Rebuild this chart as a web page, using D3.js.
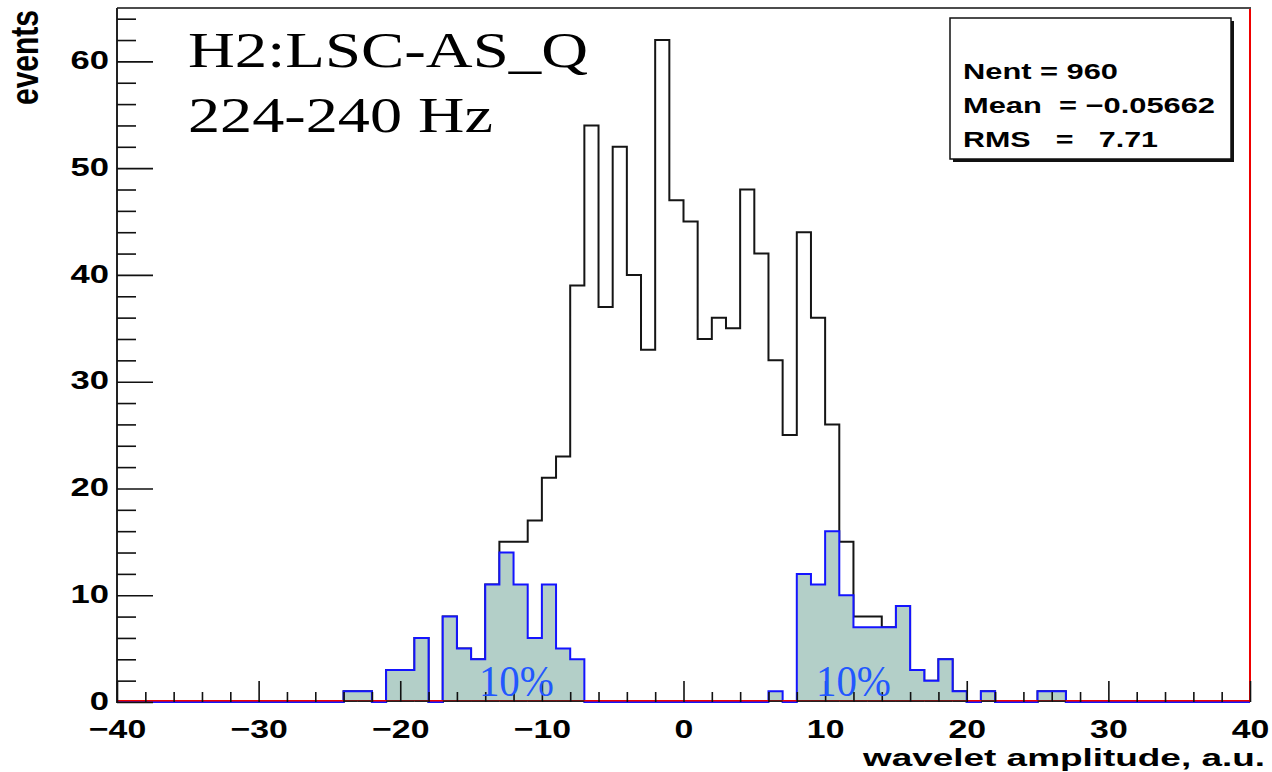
<!DOCTYPE html>
<html><head><meta charset="utf-8">
<script src="https://cdn.jsdelivr.net/npm/d3@7"></script>
<style>body{margin:0;background:#fff} svg{display:block}</style>
</head><body><svg id="c" width="1272" height="772"></svg>
<script>
// ---- data ----
const binLow = d3.range(-40, 40); // lower bin edges, bin width 1
const allEvents = [
  0,0,0,0,0,0,0,0,0,0, 0,0,0,0,0,0,
  1,1,0,3,3,6,0,8,5,4,
  11,15,15,17,21,23,39,54,37,52,
  40,33,62,47,45,34,36,35,48,42,
  32,25,44,36,26,15,8,8,7,9,
  3,2,4,1,0,1,0,0,0,1,
  1,
  0,0,0,0,0,0,0,0,0,0,0,0,0
];
const tailEvents = [
  0,0,0,0,0,0,0,0,0,0, 0,0,0,0,0,0,
  1,1,0,3,3,6,0,8,5,4,
  11,14,11,6,11,5,4,0,0,0,
  0,0,0,0,0,0,0,0,0,0,
  1,0,12,11,16,10,7,7,7,9,
  3,2,4,1,0,1,0,0,0,1,
  1,
  0,0,0,0,0,0,0,0,0,0,0,0,0
];
const yMajorTicks = [0,10,20,30,40,50,60];
const yMinorTicks = [2,4,6,8,12,14,16,18,22,24,26,28,32,34,36,38,42,44,46,48,52,54,56,58,62,64];
const xMajorTicks = [-40,-30,-20,-10,0,10,20,30,40];
const xMinorTicks = d3.range(-38, 40, 2).filter(v => v % 10 !== 0);
const titleLines = ["H2:LSC-AS_Q", "224-240 Hz"];
const statsLines = ["Nent = 960", "Mean  = \u22120.05662", "RMS   =   7.71"];
const tailLabelCenters = [-11.8, 12];
const tailLabelText = "10%";
const yTitle = "events";
const xTitle = "wavelet amplitude, a.u.";

// ---- layout ----
const svg = d3.select("#c");
const L = 117, R = 1250, T = 8, B = 702;
const x = d3.scaleLinear().domain([-40, 40]).range([L, R]);
const y = d3.scaleLinear().domain([0, 65]).range([B, T]);
const SANS = "'Liberation Sans', Arial, Helvetica, sans-serif";
const SERIF = "'Liberation Serif', 'Times New Roman', serif";

function stretch(sel, f) {
  sel.each(function () {
    const w = this.getComputedTextLength();
    this.setAttribute("textLength", w * f);
    this.setAttribute("lengthAdjust", "spacingAndGlyphs");
  });
}
function fitTo(sel, w) {
  sel.attr("textLength", w).attr("lengthAdjust", "spacingAndGlyphs");
}

svg.append("rect").attr("width", 1272).attr("height", 772).attr("fill", "#fff");

function stepPoints(counts) {
  const pts = [[-40, 0]];
  binLow.forEach((b, i) => pts.push([b, counts[i]]));
  pts.push([40, counts[counts.length - 1]]);
  pts.push([40, 0]);
  return pts;
}
const line = d3.line().x(d => x(d[0])).y(d => y(d[1])).curve(d3.curveStepAfter);
const area = d3.area().x(d => x(d[0])).y0(y(0)).y1(d => y(d[1])).curve(d3.curveStepAfter);

// black histogram (all events)
svg.append("path").attr("d", line(stepPoints(allEvents)))
  .attr("fill", "none").attr("stroke", "#151515").attr("stroke-width", 2);

// blue filled histogram (tails)
const tailPts = binLow.map((b, i) => [b, tailEvents[i]]);
tailPts.push([40, tailEvents[tailEvents.length - 1]]);
svg.append("path").attr("d", area(tailPts)).attr("fill", "#b3cfc8");
svg.append("path").attr("d", line(stepPoints(tailEvents)))
  .attr("fill", "none").attr("stroke", "#1414ff").attr("stroke-width", 2);

// red zero line
svg.append("line").attr("x1", L).attr("x2", R).attr("y1", y(0) - 1.2).attr("y2", y(0) - 1.2)
  .attr("stroke", "#ee0000").attr("stroke-width", 1.6);
// dark baseline under filled bins
svg.append("g").selectAll("line").data(binLow.filter((b, i) => tailEvents[i] > 0)).join("line")
  .attr("x1", d => x(d)).attr("x2", d => x(d + 1)).attr("y1", y(0) - 0.8).attr("y2", y(0) - 0.8)
  .attr("stroke", "#222").attr("stroke-width", 1.6);

// frame
svg.append("line").attr("x1", L).attr("x2", R + 1).attr("y1", T).attr("y2", T).attr("stroke", "#111").attr("stroke-width", 1.6);
svg.append("line").attr("x1", L).attr("x2", L).attr("y1", T).attr("y2", B + 1).attr("stroke", "#222").attr("stroke-width", 2);
svg.append("line").attr("x1", R).attr("x2", R).attr("y1", T + 1).attr("y2", B).attr("stroke", "#ee0000").attr("stroke-width", 2);

// y axis (ticks inside)
const yAx = svg.append("g").attr("transform", `translate(${L},0)`)
  .call(d3.axisLeft(y).tickValues(yMajorTicks).tickSize(-36).tickPadding(8).tickFormat(d3.format("d")));
yAx.select(".domain").remove();
yAx.selectAll(".tick line").attr("stroke", "#111").attr("stroke-width", 1.6);
yAx.selectAll(".tick text").attr("font-family", SANS).attr("font-weight", "bold").attr("font-size", 26)
  .attr("dy", "0.28em").attr("fill", "#000");
stretch(yAx.selectAll(".tick text"), 1.33);
const yMin = svg.append("g").attr("transform", `translate(${L},0)`)
  .call(d3.axisLeft(y).tickValues(yMinorTicks).tickSize(-19).tickFormat(""));
yMin.select(".domain").remove();
yMin.selectAll(".tick line").attr("stroke", "#111").attr("stroke-width", 1.6);

// x axis (ticks inside)
const xAx = svg.append("g").attr("transform", `translate(0,${B})`)
  .call(d3.axisBottom(x).tickValues(xMajorTicks).tickSize(-21).tickPadding(18).tickFormat(d3.format("d")));
xAx.select(".domain").remove();
xAx.selectAll(".tick line").attr("stroke", "#111").attr("stroke-width", 1.6);
xAx.selectAll(".tick text").attr("font-family", SANS).attr("font-weight", "bold").attr("font-size", 26).attr("fill", "#000");
stretch(xAx.selectAll(".tick text"), 1.3);
const xMin = svg.append("g").attr("transform", `translate(0,${B})`)
  .call(d3.axisBottom(x).tickValues(xMinorTicks).tickSize(-10).tickFormat(""));
xMin.select(".domain").remove();
xMin.selectAll(".tick line").attr("stroke", "#111").attr("stroke-width", 1.6);

// axis titles
svg.append("g").attr("transform", "translate(38,10) scale(1.3,1) rotate(-90)")
  .append("text").attr("text-anchor", "end").attr("font-family", SANS).attr("font-weight", "bold")
  .attr("font-size", 30).attr("fill", "#000").text(yTitle);
const xt = svg.append("text").attr("x", 1265).attr("y", 766).attr("text-anchor", "end")
  .attr("font-family", SANS).attr("font-weight", "bold").attr("font-size", 24).attr("fill", "#000").text(xTitle);
fitTo(xt, 402);

// title
const t1 = svg.append("text").attr("x", 188).attr("y", 67).attr("font-family", SERIF)
  .attr("font-size", 50).attr("fill", "#000").text(titleLines[0]);
fitTo(t1, 400);
const t2 = svg.append("text").attr("x", 188).attr("y", 132).attr("font-family", SERIF)
  .attr("font-size", 50).attr("fill", "#000").text(titleLines[1]);
fitTo(t2, 305);

// 10% labels
svg.append("g").selectAll("text").data(tailLabelCenters).join("text")
  .attr("x", d => x(d)).attr("y", y(0) - 6.5).attr("text-anchor", "middle")
  .attr("font-family", SERIF).attr("font-size", 45).attr("fill", "#2257ff")
  .attr("textLength", 75).attr("lengthAdjust", "spacingAndGlyphs").text(tailLabelText);

// stats box
const bx = 950, by = 18, bw = 281, bh = 141;
svg.append("rect").attr("x", bx + 3).attr("y", by + 3).attr("width", bw).attr("height", bh).attr("fill", "#111");
svg.append("rect").attr("x", bx).attr("y", by).attr("width", bw).attr("height", bh)
  .attr("fill", "#fff").attr("stroke", "#111").attr("stroke-width", 1.5);
const statW = [155, 252, 195];
svg.append("g").selectAll("text").data(statsLines).join("text")
  .attr("x", 963).attr("y", (d, i) => 79 + i * 34)
  .attr("font-family", SANS).attr("font-weight", "bold").attr("font-size", 22).attr("fill", "#000")
  .style("white-space", "pre").attr("xml:space", "preserve")
  .attr("textLength", (d, i) => statW[i]).attr("lengthAdjust", "spacingAndGlyphs")
  .text(d => d);
</script>
</body></html>
